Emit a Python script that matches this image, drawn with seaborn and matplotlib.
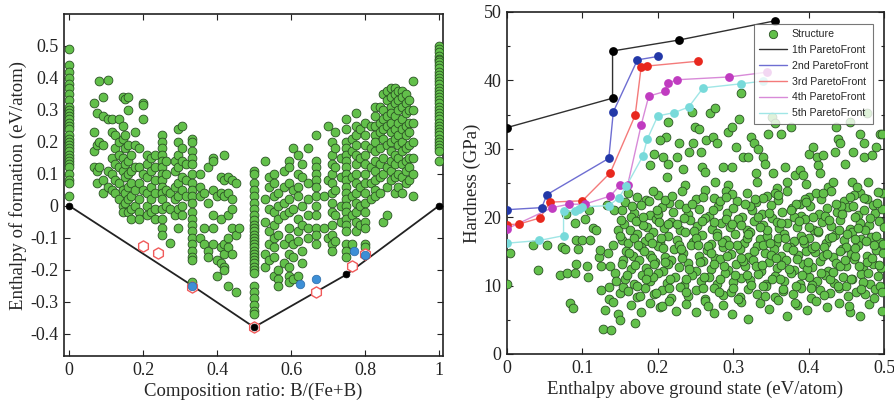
import matplotlib
matplotlib.use("Agg")
import matplotlib.pyplot as plt
import matplotlib.ticker as mticker
import pandas as pd
import seaborn as sns
from matplotlib.lines import Line2D

# ---- left panel: formation enthalpy vs composition ----
# composition columns (x) and the enthalpies found in each column
col_x = [0.0, 1.0, 0.068, 0.075, 0.082, 0.092, 0.105, 0.115, 0.125, 0.135, 0.145, 0.152,
         0.16, 0.168, 0.178, 0.19, 0.2, 0.21, 0.22, 0.232, 0.25, 0.262, 0.272, 0.285,
         0.295, 0.305, 0.315, 0.333, 0.355, 0.365, 0.375, 0.39, 0.40, 0.41, 0.42, 0.43,
         0.44, 0.45, 0.46, 0.5, 0.53, 0.54, 0.555, 0.565, 0.58, 0.595, 0.605, 0.62, 0.63,
         0.645, 0.667, 0.69, 0.70, 0.71, 0.72, 0.735, 0.75, 0.765, 0.775, 0.787, 0.8,
         0.815, 0.828, 0.84, 0.85, 0.86, 0.87, 0.88, 0.89, 0.90, 0.91, 0.92, 0.93]
col_y = [
    [0.49, 0.44, 0.42, 0.40, 0.38, 0.37, 0.35, 0.33, 0.31, 0.30, 0.29, 0.28, 0.27, 0.26, 0.25,
     0.24, 0.22, 0.21, 0.20, 0.19, 0.18, 0.17, 0.16, 0.15, 0.14, 0.13, 0.12, 0.10, 0.08, 0.07, 0.03],
    [0.50, 0.49, 0.48, 0.47, 0.46, 0.455, 0.45, 0.44, 0.43, 0.42, 0.41, 0.40, 0.39, 0.38, 0.37,
     0.36, 0.35, 0.34, 0.33, 0.32, 0.31, 0.30, 0.29, 0.28, 0.27, 0.26, 0.25, 0.24, 0.23, 0.22,
     0.21, 0.20, 0.19, 0.18, 0.17, 0.14],
    [0.32, 0.23, 0.17, 0.12],
    [0.19, 0.11, 0.07, 0.29],
    [0.39, 0.12, 0.20],
    [0.28, 0.34, 0.04, 0.19, 0.08],
    [0.395, 0.27, 0.11, 0.06],
    [0.27, 0.23, 0.15, 0.10, 0.05],
    [0.22, 0.18, 0.13, 0.08, 0.04],
    [0.27, 0.20, 0.16, 0.12, 0.07, 0.02],
    [0.34, 0.25, 0.21, 0.15, 0.11, 0.05, 0.0, -0.02],
    [0.335, 0.22, 0.18, 0.13, 0.09, 0.04, 0.01],
    [0.34, 0.30, 0.19, 0.14, 0.10, 0.06, 0.02, -0.02],
    [0.16, 0.11, 0.07, 0.03, -0.01, -0.04],
    [0.23, 0.19, 0.12, 0.05, 0.0],
    [0.18, 0.12, 0.07, 0.02, -0.02, -0.04],
    [0.32, 0.315, 0.27, 0.10, 0.05],
    [0.16, 0.13, 0.09, 0.04, 0.0, -0.03],
    [0.15, 0.11, 0.06, 0.02, -0.02],
    [0.16, 0.12, 0.08, 0.04, -0.01, -0.04],
    [0.22, 0.20, 0.18, 0.16, 0.14, 0.12, 0.10, 0.08, 0.06, 0.04, 0.02, -0.01, -0.04, -0.07, -0.09],
    [0.14, 0.10, 0.05, 0.0],
    [0.04, -0.01, -0.115],
    [0.14, 0.11, 0.06, 0.02, -0.03],
    [0.24, 0.20, 0.16, 0.12, 0.07, 0.03, -0.01, -0.07],
    [0.25, 0.18, 0.14, 0.09, 0.05, 0.0, -0.03],
    [0.13, 0.08, 0.03],
    [0.21, 0.20, 0.17, 0.15, 0.13, 0.10, 0.07, 0.05, 0.03, 0.01, -0.02, -0.04, -0.06, -0.08,
     -0.10, -0.12, -0.14, -0.16, -0.17, -0.24],
    [0.10, 0.06, 0.03, -0.10],
    [0.04, -0.12, -0.07],
    [0.12, 0.01, -0.14, -0.16],
    [0.15, 0.14, 0.05, -0.03, -0.07, -0.12],
    [0.03, -0.17, -0.22],
    [0.09, 0.04, -0.04, -0.13, -0.18],
    [0.16, 0.08, 0.03, -0.12, -0.15, -0.19, -0.20],
    [0.09, 0.04, -0.03, -0.10, -0.13, -0.25],
    [0.08, 0.02, -0.01, -0.07, -0.15],
    [0.07, -0.09, -0.27],
    [-0.07],
    [0.11, 0.10, 0.07, 0.05, 0.03, 0.01, -0.01, -0.03, -0.045, -0.06, -0.07, -0.08, -0.09,
     -0.10, -0.11, -0.12, -0.13, -0.14, -0.15, -0.16, -0.17, -0.18, -0.19, -0.20, -0.21,
     -0.25, -0.27, -0.29, -0.31, -0.33, -0.34],
    [0.14, 0.02, -0.05, -0.15, -0.19],
    [0.09, 0.06, -0.01, -0.08, -0.12, -0.17],
    [0.10, 0.07, 0.03, -0.02, -0.06, -0.10, -0.13, -0.16, -0.22],
    [0.04, 0.0, -0.04, -0.09, -0.20, -0.23, -0.25],
    [0.11, 0.06, 0.01, -0.03, -0.12, -0.18],
    [0.14, 0.12, 0.07, 0.02, -0.02, -0.07, -0.10, -0.15, -0.19, -0.22, -0.24],
    [0.18, 0.05, -0.01, -0.12, -0.16, -0.23],
    [0.16, 0.10, 0.06, 0.03, -0.04, -0.08, -0.11, -0.22],
    [0.13, 0.09, 0.0, -0.06, -0.14, -0.18],
    [0.18, 0.07, 0.02, -0.03, -0.07, -0.10],
    [0.22, 0.14, 0.12, 0.10, 0.08, 0.06, 0.03, 0.0, -0.03, -0.07, -0.09, -0.12],
    [0.03, -0.07],
    [0.25, 0.08, -0.10],
    [0.20, 0.16, 0.13, 0.10, 0.07, 0.04, 0.01, -0.02, -0.06, -0.09, -0.12, -0.14],
    [0.23, 0.18, 0.12, 0.05, -0.03, -0.11],
    [0.15, 0.09, 0.0, -0.05],
    [0.27, 0.24, 0.20, 0.18, 0.16, 0.14, 0.12, 0.10, 0.08, 0.06, 0.04, 0.02, 0.0, -0.02, -0.04,
     -0.06, -0.08, -0.12, -0.14, -0.16],
    [0.21, 0.17, 0.09, 0.03, -0.03, -0.12],
    [0.29, 0.25, 0.22, 0.19, 0.16, 0.13, 0.10, 0.07, 0.04, 0.01, -0.02, -0.05, -0.08],
    [0.24, 0.15, 0.06, 0.0, -0.06],
    [0.26, 0.22, 0.19, 0.16, 0.13, 0.10, 0.07, 0.04, 0.01, -0.02, -0.05, -0.07, -0.12, -0.13],
    [0.25, 0.18, 0.12, 0.07, 0.02],
    [0.31, 0.28, 0.25, 0.22, 0.20, 0.17, 0.14, 0.11, 0.08, 0.05, 0.03],
    [0.31, 0.26, 0.23, 0.18, 0.13, 0.09, 0.04],
    [0.35, 0.30, 0.27, 0.24, 0.21, 0.15, 0.10, -0.05],
    [0.36, 0.33, 0.28, 0.25, 0.19, 0.12, 0.06, -0.03],
    [0.37, 0.34, 0.31, 0.29, 0.26, 0.23, 0.20, 0.17, 0.14, 0.11, 0.08],
    [0.37, 0.35, 0.32, 0.28, 0.24, 0.21, 0.16, 0.13, 0.09, 0.04],
    [0.36, 0.33, 0.30, 0.26, 0.22, 0.19, 0.15, 0.10, 0.06],
    [0.36, 0.34, 0.31, 0.27, 0.24, 0.20, 0.17, 0.13, 0.09, 0.04],
    [0.35, 0.32, 0.29, 0.25, 0.22, 0.18, 0.14, 0.11, 0.07],
    [0.33, 0.30, 0.26, 0.23, 0.19, 0.15, 0.12, 0.08],
    [0.39, 0.30, 0.26, 0.20, 0.15, 0.10, 0.03],
]

hull_x = [0.0, 0.333, 0.5, 0.75, 1.0]
hull_y = [0.0, -0.25, -0.38, -0.215, 0.0]
black_x = [0.0, 0.5, 0.75, 1.0]
black_y = [0.0, -0.38, -0.215, 0.0]
blue_x = [0.333, 0.625, 0.667, 0.77, 0.8]
blue_y = [-0.25, -0.245, -0.228, -0.143, -0.155]
hex_x = [0.2, 0.24, 0.333, 0.5, 0.667, 0.765, 0.8]
hex_y = [-0.125, -0.147, -0.255, -0.38, -0.27, -0.187, -0.15]

# ---- right panel: hardness vs enthalpy above ground state ----
struct_x = [
    0.004, 0.0, 0.034, 0.041, 0.053, 0.07, 0.073, 0.079, 0.077, 0.084, 0.088, 0.078, 0.09, 0.091,
    0.094, 0.091, 0.09, 0.103, 0.1, 0.106, 0.108, 0.109, 0.11, 0.114, 0.118, 0.122, 0.123, 0.125,
    0.125, 0.13, 0.127, 0.138, 0.132, 0.134, 0.136, 0.135, 0.135, 0.14, 0.141, 0.142, 0.143,
    0.145, 0.147, 0.15, 0.15, 0.147, 0.152, 0.154, 0.154,
    0.214, 0.211, 0.203, 0.195, 0.189, 0.207, 0.214, 0.212, 0.225, 0.228, 0.234, 0.236, 0.241,
    0.247, 0.246, 0.249, 0.254, 0.257, 0.259, 0.262, 0.264, 0.269, 0.276, 0.273, 0.278, 0.276,
    0.287, 0.293, 0.298, 0.298, 0.293, 0.304, 0.308, 0.311, 0.313, 0.32, 0.324, 0.327, 0.333,
    0.34, 0.342, 0.33, 0.331, 0.346, 0.351, 0.355, 0.364, 0.353, 0.358, 0.369, 0.371, 0.377,
    0.382, 0.389, 0.393, 0.397, 0.4, 0.406, 0.411, 0.413, 0.415, 0.419, 0.426, 0.433, 0.435,
    0.437, 0.439, 0.442, 0.448, 0.457, 0.459, 0.455, 0.468, 0.473, 0.473, 0.479, 0.484, 0.49,
    0.495, 0.498, 0.497, 0.477, 0.468, 0.464,
    0.16, 0.185, 0.2, 0.215, 0.232, 0.25, 0.262, 0.275, 0.29, 0.305, 0.318, 0.33, 0.345, 0.36,
    0.372, 0.388, 0.4, 0.417, 0.43, 0.447, 0.46, 0.478, 0.492,
    0.152, 0.168, 0.178, 0.19, 0.205, 0.22, 0.228, 0.24, 0.255, 0.268, 0.28, 0.292, 0.3, 0.312,
    0.325, 0.338, 0.35, 0.365, 0.378, 0.39, 0.402, 0.414, 0.425, 0.438, 0.452, 0.466, 0.474,
    0.488, 0.498,
    0.155, 0.163, 0.175, 0.186, 0.197, 0.208, 0.218, 0.23, 0.243, 0.252, 0.263, 0.272, 0.284,
    0.296, 0.307, 0.318, 0.328, 0.34, 0.352, 0.361, 0.372, 0.384, 0.395, 0.407, 0.418, 0.43,
    0.442, 0.455, 0.468, 0.48, 0.493,
    0.15, 0.16, 0.172, 0.183, 0.193, 0.203, 0.213, 0.225, 0.236, 0.247, 0.258, 0.27, 0.279, 0.29,
    0.302, 0.314, 0.322, 0.335, 0.345, 0.357, 0.368, 0.38, 0.39, 0.401, 0.412, 0.423, 0.435,
    0.447, 0.458, 0.47, 0.483, 0.495,
    0.158, 0.167, 0.178, 0.19, 0.2, 0.21, 0.221, 0.233, 0.244, 0.254, 0.265, 0.276, 0.287, 0.297,
    0.309, 0.32, 0.331, 0.342, 0.354, 0.364, 0.375, 0.386, 0.397, 0.409, 0.42, 0.432, 0.444,
    0.456, 0.466, 0.477, 0.49, 0.499,
    0.153, 0.164, 0.175, 0.185, 0.196, 0.207, 0.218, 0.228, 0.24, 0.25, 0.26, 0.271, 0.282, 0.293,
    0.304, 0.315, 0.326, 0.337, 0.348, 0.358, 0.37, 0.381, 0.392, 0.404, 0.415, 0.426, 0.437,
    0.449, 0.46, 0.472, 0.485, 0.496,
    0.156, 0.168, 0.179, 0.189, 0.2, 0.212, 0.223, 0.235, 0.246, 0.257, 0.268, 0.278, 0.289, 0.3,
    0.311, 0.322, 0.333, 0.344, 0.356, 0.367, 0.377, 0.388, 0.4, 0.411, 0.422, 0.434, 0.446,
    0.457, 0.469, 0.481, 0.492,
    0.16, 0.172, 0.183, 0.195, 0.206, 0.217, 0.229, 0.24, 0.251, 0.262, 0.274, 0.286, 0.297,
    0.309, 0.32, 0.332, 0.343, 0.355, 0.366, 0.379, 0.39, 0.403, 0.415, 0.428, 0.44, 0.452,
    0.463, 0.475, 0.488,
    0.165, 0.178, 0.19, 0.203, 0.215, 0.224, 0.238, 0.25, 0.263, 0.275, 0.287, 0.298, 0.31, 0.32,
    0.335, 0.348, 0.36, 0.372, 0.385, 0.398, 0.41, 0.425, 0.44, 0.455, 0.468, 0.48, 0.497, 0.17,
    0.172, 0.194, 0.21, 0.238, 0.26, 0.283, 0.298, 0.322, 0.34, 0.356, 0.383, 0.395, 0.41,
    0.443, 0.455, 0.485,
    0.165, 0.18, 0.2, 0.214, 0.235, 0.248, 0.275, 0.29, 0.31, 0.333, 0.345, 0.358, 0.38, 0.4,
    0.422, 0.44, 0.462, 0.475, 0.5,
    0.168, 0.188, 0.207, 0.228, 0.25, 0.266, 0.285, 0.305, 0.318, 0.339, 0.36, 0.372, 0.394,
    0.405, 0.427, 0.45, 0.462, 0.487,
    0.17, 0.192, 0.213, 0.232, 0.256, 0.275, 0.292, 0.313, 0.33, 0.35, 0.363, 0.385, 0.398,
    0.419, 0.441, 0.462, 0.478,
    0.173, 0.194, 0.215, 0.238, 0.26, 0.282, 0.3, 0.318, 0.34, 0.362, 0.383, 0.405, 0.428, 0.45,
    0.472, 0.495,
    0.157, 0.171, 0.182, 0.187, 0.198, 0.199, 0.204, 0.209, 0.216, 0.219, 0.226, 0.231, 0.237,
    0.242, 0.245, 0.253, 0.258, 0.261, 0.267, 0.27, 0.273, 0.279, 0.281, 0.288, 0.291, 0.295,
    0.299, 0.303, 0.307, 0.311, 0.315, 0.319, 0.324, 0.327, 0.329, 0.336, 0.338, 0.342, 0.347,
    0.349, 0.352, 0.357, 0.359, 0.363, 0.366, 0.369, 0.374, 0.376, 0.379, 0.382, 0.387, 0.391,
    0.393, 0.396, 0.399, 0.403, 0.406, 0.409, 0.413, 0.416, 0.419, 0.421, 0.424, 0.427, 0.431,
    0.433, 0.436, 0.439, 0.441, 0.444, 0.448, 0.451, 0.453, 0.456, 0.459, 0.461, 0.465, 0.467,
    0.47, 0.473, 0.476, 0.479, 0.482, 0.484, 0.487, 0.489, 0.491, 0.494, 0.497, 0.499,
    0.151, 0.159, 0.162, 0.166, 0.174, 0.176, 0.181, 0.184, 0.188, 0.192, 0.195, 0.202, 0.206,
]
struct_y = [
    14.7, 10.3, 15.9, 12.3, 15.9, 11.5, 15.7, 11.8, 15.4, 7.4, 6.7, 20.5, 19.2, 16.6, 15.4, 13.2,
    11.8, 19.8, 16.6, 12.8, 11.3, 21.0, 16.6, 18.4, 18.1, 14.2, 15.2, 12.8, 9.3, 6.4, 3.7, 3.5,
    21.8, 14.7, 12.8, 9.8, 8.1, 7.6, 15.9, 21.0, 11.8, 10.6, 5.9, 5.0, 8.9, 18.1, 16.6, 13.7, 9.8,
    33.9, 31.7, 31.3, 29.3, 27.6, 28.8, 27.8, 25.9, 28.8, 30.8, 27.1, 24.7, 29.6, 30.8, 35.4,
    33.2, 32.9, 29.6, 27.4, 26.6, 31.3, 35.2, 35.9, 31.7, 30.8, 25.2, 27.4, 32.5, 33.2, 27.4,
    24.7, 30.3, 34.4, 38.1, 28.8, 28.8, 31.7, 30.8, 30.0, 28.8, 27.8, 26.4, 25.2, 32.2, 34.7,
    33.7, 32.2, 26.4, 24.2, 27.4, 25.2, 33.2, 26.1, 26.9, 26.1, 24.9, 29.3, 30.3, 28.8, 27.6,
    26.4, 29.1, 24.4, 25.2, 29.6, 33.2, 31.5, 30.8, 27.8, 25.2, 29.6, 33.9, 32.2, 30.8, 28.8,
    25.2, 29.1, 30.3, 32.2, 32.2, 23.5, 35.2, 23.5, 24.4,
    23.5, 22.5, 23.3, 22.1, 23.8, 22.6, 24.0, 22.8, 23.9, 22.4, 23.6, 22.2, 23.1, 22.5, 23.8,
    22.0, 23.0, 22.7, 23.9, 22.3, 23.2, 22.6, 23.7,
    21.0, 20.6, 21.8, 20.3, 21.5, 20.8, 21.9, 20.4, 21.2, 20.2, 21.7, 20.6, 21.3, 20.1, 21.0,
    20.5, 21.8, 20.7, 21.4, 20.2, 21.6, 20.4, 21.3, 20.8, 21.5, 20.3, 21.1, 20.6, 21.2,
    19.0, 18.2, 19.5, 18.6, 19.8, 18.4, 19.3, 18.1, 19.6, 18.7, 19.9, 18.3, 19.2, 18.5, 19.7,
    18.2, 19.4, 18.8, 19.9, 18.4, 19.1, 18.6, 19.8, 18.2, 19.3, 18.7, 19.6, 18.3, 19.2, 18.8, 19.5,
    17.2, 16.3, 17.6, 16.5, 17.8, 16.2, 17.3, 16.7, 17.9, 16.4, 17.4, 16.1, 17.7, 16.6, 17.5,
    16.3, 17.9, 16.8, 17.3, 16.2, 17.6, 16.5, 17.2, 16.9, 17.8, 16.3, 17.4, 16.6, 17.9, 16.8,
    17.1, 16.4,
    15.1, 14.3, 15.6, 14.5, 15.8, 14.2, 15.3, 14.7, 15.9, 14.4, 15.2, 14.1, 15.7, 14.6, 15.4,
    14.2, 15.8, 14.8, 15.3, 14.3, 15.6, 14.5, 15.1, 14.9, 15.7, 14.2, 15.4, 14.6, 15.9, 14.4,
    15.2, 14.7,
    13.2, 12.4, 13.7, 12.6, 13.4, 12.1, 13.8, 12.7, 13.3, 12.2, 13.6, 12.5, 13.9, 12.3, 13.1,
    12.8, 13.7, 12.2, 13.4, 12.6, 13.8, 12.3, 13.2, 12.7, 13.6, 12.1, 13.3, 12.8, 13.9, 12.4,
    13.1, 12.6,
    11.0, 10.3, 11.5, 10.6, 11.8, 10.4, 11.2, 10.1, 11.6, 10.7, 11.3, 10.2, 11.9, 10.5, 11.1,
    10.8, 11.7, 10.3, 11.4, 10.6, 11.8, 10.2, 11.3, 10.7, 11.6, 10.4, 11.2, 10.9, 11.7, 10.3, 11.4,
    9.2, 8.4, 9.6, 8.7, 9.4, 8.2, 9.8, 8.5, 9.3, 8.1, 9.7, 8.6, 9.1, 8.3, 9.5, 8.8, 9.9, 8.4, 9.2,
    8.7, 9.6, 8.2, 9.4, 8.9, 9.7, 8.5, 9.1, 8.8, 9.5,
    7.2, 6.1, 7.5, 6.8, 7.7, 6.3, 7.3, 6.2, 7.8, 6.0, 7.1, 5.9, 7.6, 5.1, 7.4, 6.6, 7.9, 5.6, 7.2,
    6.4, 7.7, 6.9, 7.5, 6.1, 5.5, 7.3, 6.3, 4.6,
    22.9, 23.9, 22.5, 21.4, 22.9, 22.3, 23.4, 21.6, 22.8, 23.5, 21.9, 22.6, 23.5, 21.7, 22.9, 21.8,
    20.0, 18.9, 20.4, 19.0, 19.9, 18.0, 19.3, 19.8, 18.9, 20.0, 18.1, 19.3, 20.1, 18.6, 20.2,
    18.1, 20.0, 18.2, 18.6,
    16.9, 17.1, 15.5, 16.0, 17.0, 15.8, 16.4, 16.0, 17.0, 15.9, 17.0, 15.7, 16.3, 15.5, 16.9,
    15.6, 16.8, 16.0,
    13.0, 14.0, 13.1, 14.0, 13.5, 13.2, 14.3, 13.6, 12.9, 14.5, 13.0, 13.9, 12.5, 14.3, 12.9,
    14.4, 13.4,
    9.9, 11.2, 9.7, 11.0, 9.6, 11.0, 9.7, 11.5, 9.9, 10.9, 9.9, 10.1, 11.0, 10.0, 10.5, 10.0,
    22.2, 19.4, 15.0, 12.0, 8.9, 21.0, 17.0, 13.5, 10.9, 23.1, 19.0, 15.4, 9.1,
    12.5, 22.0, 16.0, 19.5, 11.2, 7.0, 14.8, 21.0, 17.3, 9.0, 12.9, 23.0, 15.9,
    19.0, 11.5, 8.0, 14.0, 21.9, 17.6, 10.1, 15.0, 22.6, 18.5, 13.0, 8.5, 20.6,
    16.2, 11.0, 14.1, 23.3, 19.1, 9.5, 17.0, 12.4, 21.0, 15.2, 7.5, 19.4, 11.5,
    16.7, 22.2, 13.4, 9.6, 20.0, 15.8, 18.0, 11.9, 23.6, 8.6, 14.6, 19.6, 17.1,
    12.0, 22.0, 9.9, 15.0, 20.4, 13.8, 17.5, 7.0, 11.0, 21.7, 15.5, 18.4, 12.9,
    9.5, 22.8, 16.5, 11.8, 19.9, 14.0, 8.2, 17.3, 22.1, 13.0, 9.0, 16.1,
    19.6, 11.6, 14.7, 21.7, 16.0, 8.5, 20.0, 11.0, 22.3, 16.2, 13.2, 19.3, 7.0,
]

front_labels = ["1th ParetoFront", "2nd ParetoFront", "3rd ParetoFront",
                "4th ParetoFront", "5th ParetoFront"]
f1_x = [0.0, 0.14, 0.14, 0.228, 0.355]
f1_y = [33.1, 37.4, 44.3, 45.9, 48.7]
f2_x = [0.0, 0.046, 0.053, 0.135, 0.141, 0.173, 0.2]
f2_y = [21.1, 21.4, 23.3, 28.6, 35.4, 43.0, 43.5]
f3_x = [0.0, 0.016, 0.044, 0.057, 0.1, 0.137, 0.17, 0.178, 0.186, 0.253]
f3_y = [18.9, 19.0, 19.9, 22.2, 22.4, 26.5, 34.9, 42.0, 42.1, 42.8]
f4_x = [0.0, 0.06, 0.082, 0.103, 0.137, 0.15, 0.16, 0.178, 0.188, 0.21, 0.213, 0.226, 0.294, 0.345]
f4_y = [18.3, 21.4, 21.9, 21.9, 23.1, 24.7, 24.7, 33.5, 37.7, 38.4, 39.6, 40.1, 40.5, 41.2]
f5_x = [0.0, 0.043, 0.075, 0.075, 0.09, 0.095, 0.1, 0.135, 0.148, 0.158, 0.18, 0.186, 0.2,
        0.222, 0.241, 0.26, 0.31, 0.34]
f5_y = [16.2, 16.6, 17.3, 20.9, 20.9, 21.2, 21.5, 21.7, 22.8, 24.5, 28.9, 31.4, 34.8, 35.3,
        36.1, 38.9, 39.5, 39.9]
front_xs = [f1_x, f2_x, f3_x, f4_x, f5_x]
front_ys = [f1_y, f2_y, f3_y, f4_y, f5_y]
point_colors = ["#000000", "#2338a8", "#e8281e", "#c03cc0", "#78dada"]
line_colors = ["#303030", "#6e6ed2", "#f47a7a", "#d88ad8", "#a0e6e6"]

GREEN = "#62c04a"
GREEN_EDGE = "#2b5224"

sns.set_style("ticks")
plt.rcParams["font.family"] = ["Liberation Serif", "DejaVu Serif"]
plt.rcParams["axes.unicode_minus"] = False

fig = plt.figure(figsize=(8.95, 4.05), dpi=100)
ax1 = fig.add_axes([64 / 895, 1 - 356 / 405, 379 / 895, 342 / 405])
ax2 = fig.add_axes([507 / 895, 1 - 354 / 405, 377 / 895, 342 / 405])

# left panel
rows = []
for cx, ys in zip(col_x, col_y):
    for cy in ys:
        rows.append((cx, cy))
left_df = pd.DataFrame(rows, columns=["ratio", "enthalpy"])

sns.lineplot(x=hull_x, y=hull_y, ax=ax1, color="#222222", lw=1.3, sort=False,
             estimator=None, zorder=2)
sns.scatterplot(data=left_df, x="ratio", y="enthalpy", ax=ax1, s=40, color=GREEN,
                edgecolor=GREEN_EDGE, linewidth=0.6, zorder=3, legend=False)
sns.scatterplot(x=hex_x, y=hex_y, ax=ax1, marker="h", s=65, facecolor="white",
                edgecolor="#f05a5a", linewidth=1.0, zorder=4, legend=False)
sns.scatterplot(x=blue_x, y=blue_y, ax=ax1, s=38, color="#3d8fd6", edgecolor="#2a6aa8",
                linewidth=0.5, zorder=5, legend=False)
sns.scatterplot(x=black_x, y=black_y, ax=ax1, s=24, color="black", edgecolor="black",
                linewidth=0.5, zorder=6, legend=False)

ax1.set_xlim(-0.014, 1.011)
ax1.set_ylim(-0.47, 0.6)
ax1.set_xticks([0, 0.2, 0.4, 0.6, 0.8, 1.0])
ax1.set_xticklabels(["0", "0.2", "0.4", "0.6", "0.8", "1"])
yt = [-0.4, -0.3, -0.2, -0.1, 0, 0.1, 0.2, 0.3, 0.4, 0.5]
ax1.set_yticks(yt)
ax1.set_yticklabels(["-0.4", "-0.3", "-0.2", "-0.1", "0", "0.1", "0.2", "0.3", "0.4", "0.5"])
ax1.set_xlabel("Composition ratio: B/(Fe+B)", fontsize=13.5, labelpad=3)
ax1.set_ylabel("Enthalpy of formation (eV/atom)", fontsize=13.5, labelpad=2)

# right panel
struct_df = pd.DataFrame({"dh": struct_x, "hardness": struct_y})
sns.scatterplot(data=struct_df, x="dh", y="hardness", ax=ax2, s=40, color=GREEN,
                edgecolor=GREEN_EDGE, linewidth=0.6, zorder=3, legend=False)
for fx, fy, pc, lc in zip(front_xs, front_ys, point_colors, line_colors):
    sns.lineplot(x=fx, y=fy, ax=ax2, color=lc, lw=1.0, sort=False, estimator=None, zorder=4)
    sns.scatterplot(x=fx, y=fy, ax=ax2, s=40, color=pc, edgecolor=pc, linewidth=0,
                    zorder=5, legend=False)

ax2.set_xlim(0, 0.5)
ax2.set_ylim(0, 50)
ax2.set_xticks([0, 0.1, 0.2, 0.3, 0.4, 0.5])
ax2.set_xticklabels(["0", "0.1", "0.2", "0.3", "0.4", "0.5"])
ax2.set_yticks([0, 10, 20, 30, 40, 50])
ax2.yaxis.set_minor_locator(mticker.MultipleLocator(5))
ax2.set_xlabel("Enthalpy above ground state (eV/atom)", fontsize=13.5, labelpad=3)
ax2.set_ylabel("Hardness (GPa)", fontsize=13.5, labelpad=2)

handles = [Line2D([], [], ls="none", marker="o", markersize=6, markerfacecolor=GREEN,
                  markeredgecolor=GREEN_EDGE, markeredgewidth=0.6)]
handles += [Line2D([], [], color=c, lw=1.0) for c in line_colors]
leg = ax2.legend(handles, ["Structure"] + front_labels, loc="upper right",
                 bbox_to_anchor=(0.971, 0.965), borderaxespad=0,
                 prop={"family": ["Liberation Sans", "DejaVu Sans"], "size": 7.6},
                 frameon=True, fancybox=False, handlelength=2.7, handletextpad=0.4,
                 labelspacing=0.55, borderpad=0.5)
leg.get_frame().set_edgecolor("#555555")
leg.get_frame().set_linewidth(0.8)
leg.set_zorder(10)

for ax in (ax1, ax2):
    for sp in ax.spines.values():
        sp.set_visible(True)
        sp.set_linewidth(1.2)
        sp.set_color("#222222")
    ax.tick_params(which="both", direction="in", top=True, right=True, labelsize=13,
                   width=0.8, colors="#222222", pad=4)
    ax.tick_params(which="major", length=4)
    ax.tick_params(which="minor", length=2.5)

fig.savefig("out.png", dpi=100)
